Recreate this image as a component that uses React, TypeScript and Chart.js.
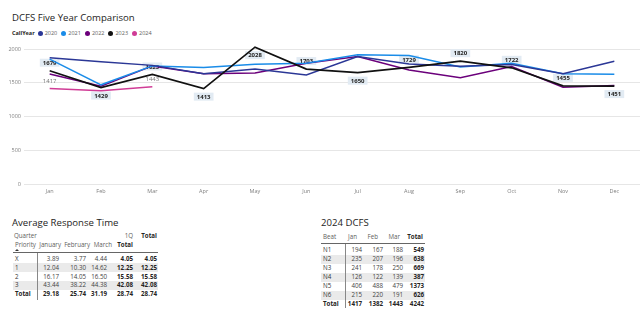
import React, { useEffect, useRef } from 'react';
import { Chart, registerables } from 'chart.js';

Chart.register(...registerables);

const FONT = "'Open Sans', 'Noto Sans', sans-serif";

// ---- Line chart data ----
const months = ['Jan', 'Feb', 'Mar', 'Apr', 'May', 'Jun', 'Jul', 'Aug', 'Sep', 'Oct', 'Nov', 'Dec'];
const years = ['2020', '2021', '2022', '2023', '2024'];
const yearColors = ['#2B3796', '#1A8CE8', '#6B007B', '#111111', '#D03C96'];
const calls2020 = [1870, 1812, 1758, 1635, 1705, 1615, 1890, 1780, 1745, 1770, 1635, 1820];
const calls2021 = [1850, 1470, 1750, 1725, 1775, 1790, 1915, 1905, 1735, 1790, 1635, 1625];
const calls2022 = [1630, 1450, 1750, 1635, 1645, 1790, 1890, 1690, 1575, 1740, 1435, 1460];
const calls2023 = [1679, 1429, 1623, 1413, 2028, 1703, 1650, 1729, 1820, 1722, 1455, 1451];
const calls2024 = [1417, 1382, 1443];
const yTicks = [0, 500, 1000, 1500, 2000];
// label placement: -1 above the point, 1 below
const labelSide2023 = [-1, 1, -1, 1, 1, -1, 1, -1, -1, -1, -1, 1];
const label2024Show = [true, false, true];

// ---- Average Response Time table ----
const priorities = ['X', '1', '2', '3'];
const respJanuary = [3.89, 12.04, 16.17, 43.44];
const respFebruary = [3.77, 10.3, 14.05, 38.22];
const respMarch = [4.44, 14.62, 16.5, 44.38];
const resp1QTotal = [4.05, 12.25, 15.58, 42.08];
const respTotal = [4.05, 12.25, 15.58, 42.08];
const respTotalsRow = [29.18, 25.74, 31.19, 28.74, 28.74];

// ---- 2024 DCFS table ----
const beats = ['N1', 'N2', 'N3', 'N4', 'N5', 'N6'];
const beatJan = [194, 235, 241, 126, 406, 215];
const beatFeb = [167, 207, 178, 122, 488, 220];
const beatMar = [188, 196, 250, 139, 479, 191];
const beatTotal = [549, 638, 669, 387, 1373, 626];
const beatTotalsRow = [1417, 1382, 1443, 4242];

const seriesData = [calls2020, calls2021, calls2022, calls2023, calls2024];

function LineChart() {
  const ref = useRef<HTMLCanvasElement>(null);
  useEffect(() => {
    const canvas = ref.current!;
    const labelPlugin = {
      id: 'valueLabels',
      beforeDatasetsDraw(chart: any) {
        const c = chart.ctx;
        c.save();
        c.textAlign = 'center';
        c.textBaseline = 'middle';
        const meta = chart.getDatasetMeta(3);
        c.font = `bold 6px ${FONT}`;
        meta.data.forEach((pt: any, i: number) => {
          const txt = String(calls2023[i]);
          const w = c.measureText(txt).width + 6;
          const h = 8;
          const cy = pt.y + labelSide2023[i] * 8;
          c.fillStyle = '#E2EBF3';
          c.fillRect(pt.x - w / 2, cy - h / 2, w, h);
          c.fillStyle = '#252423';
          c.fillText(txt, pt.x, cy + 0.5);
        });
        const meta4 = chart.getDatasetMeta(4);
        c.font = `6px ${FONT}`;
        c.fillStyle = '#777777';
        meta4.data.forEach((pt: any, i: number) => {
          if (label2024Show[i]) c.fillText(String(calls2024[i]), pt.x, pt.y - 7);
        });
        c.restore();
      },
    };
    const chart = new Chart(canvas, {
      type: 'line',
      data: {
        labels: months,
        datasets: years.map((y, i) => ({
          label: y,
          data: seriesData[i],
          borderColor: yearColors[i],
          backgroundColor: yearColors[i],
          borderWidth: i === 3 ? 1.7 : 1.5,
          pointRadius: 0,
          tension: 0,
          fill: false,
          order: i === 3 ? 0 : i + 1,
        })),
      },
      options: {
        animation: false,
        responsive: false,
        maintainAspectRatio: false,
        devicePixelRatio: 1,
        layout: { padding: { top: 4, left: 0, right: 0, bottom: 0 } },
        plugins: { legend: { display: false }, title: { display: false }, tooltip: { enabled: false } },
        scales: {
          x: {
            offset: true,
            grid: { display: false, drawTicks: false },
            border: { display: false },
            ticks: { color: '#808080', font: { family: FONT, size: 5.5 }, padding: 4, maxRotation: 0 },
            afterFit: (s: any) => { s.height = 22; },
          },
          y: {
            min: 0,
            max: 2100,
            afterBuildTicks: (s: any) => { s.ticks = yTicks.map((v) => ({ value: v })); },
            grid: { color: '#E6E6E6', lineWidth: 1, drawTicks: false },
            border: { display: false },
            ticks: {
              color: '#808080',
              font: { family: FONT, size: 5.5 },
              padding: 3,
              callback: (v: any) => String(v),
            },
            afterFit: (s: any) => { s.width = 24; },
          },
        },
      },
      plugins: [labelPlugin],
    });
    return () => chart.destroy();
  }, []);
  return (
    <canvas
      ref={ref}
      width={640}
      height={170}
      style={{ position: 'absolute', left: 0, top: 36, width: 640, height: 170 }}
    />
  );
}

type TxtProps = { x: number; cy: number; text: string | number; align?: 'left' | 'right'; bold?: boolean; color?: string; size?: number };
function Txt({ x, cy, text, align = 'right', bold = false, color = '#333333', size = 6.2 }: TxtProps) {
  const h = 10;
  const style: React.CSSProperties = {
    position: 'absolute',
    top: cy - h / 2,
    height: h,
    lineHeight: `${h}px`,
    fontSize: size,
    fontWeight: bold ? 700 : 400,
    color,
    whiteSpace: 'nowrap',
    fontFamily: FONT,
  };
  if (align === 'left') style.left = x;
  else style.right = 640 - x;
  return <div style={style}>{text}</div>;
}

function Rect({ x, y, w, h, color }: { x: number; y: number; w: number; h: number; color: string }) {
  return <div style={{ position: 'absolute', left: x, top: y, width: w, height: h, background: color }} />;
}

function ResponseTable() {
  const colRight = [59, 86, 107, 133, 157];
  const headRight = [61, 90, 112, 133];
  const rowCy = [259, 267.8, 276.6, 285.4];
  const totalCy = 294.2;
  const cols = [respJanuary, respFebruary, respMarch, resp1QTotal, respTotal];
  return (
    <>
      <Txt x={12} cy={223} text="Average Response Time" align="left" size={9.6} color="#252423" />
      <Txt x={14} cy={236} text="Quarter" align="left" color="#605E5C" />
      <Txt x={133} cy={236} text="1Q" color="#605E5C" />
      <Txt x={157} cy={236} text="Total" bold color="#252423" />
      <Txt x={15} cy={245} text="Priority" align="left" color="#605E5C" />
      <Txt x={headRight[0]} cy={245} text="January" color="#605E5C" />
      <Txt x={headRight[1]} cy={245} text="February" color="#605E5C" />
      <Txt x={headRight[2]} cy={245} text="March" color="#605E5C" />
      <Txt x={headRight[3]} cy={245} text="Total" bold color="#252423" />
      <div style={{ position: 'absolute', left: 15, top: 249, width: 0, height: 0, borderLeft: '2px solid transparent', borderRight: '2px solid transparent', borderBottom: '2px solid #333' }} />
      <Rect x={13} y={252} w={145} h={1} color="#666666" />
      {priorities.map((p, r) => (
        <React.Fragment key={p}>
          {r % 2 === 1 && <Rect x={13} y={rowCy[r] - 4.4} w={145} h={8.8} color="#EAEAEA" />}
          <Txt x={15} cy={rowCy[r]} text={p} align="left" />
          {cols.map((col, ci) => (
            <Txt key={ci} x={colRight[ci]} cy={rowCy[r]} text={col[r].toFixed(2)} bold={ci >= 3} color={ci >= 3 ? '#252423' : '#444444'} />
          ))}
        </React.Fragment>
      ))}
      <Txt x={15} cy={totalCy} text="Total" align="left" bold color="#252423" />
      {respTotalsRow.map((v, ci) => (
        <Txt key={ci} x={colRight[ci]} cy={totalCy} text={v.toFixed(2)} bold color="#252423" />
      ))}
      <Rect x={37} y={253} w={1} h={47} color="#888888" />
    </>
  );
}

function BeatTable() {
  const colRight = [362, 383, 403, 424];
  const headRight = [357, 378, 400, 423];
  const rowCy = [250, 259, 268, 277, 286, 295];
  const totalCy = 304;
  const cols = [beatJan, beatFeb, beatMar, beatTotal];
  return (
    <>
      <Txt x={321} cy={223} text="2024 DCFS" align="left" size={9.6} color="#252423" />
      <Txt x={323} cy={236.7} text="Beat" align="left" color="#605E5C" />
      <Txt x={headRight[0]} cy={236.7} text="Jan" color="#605E5C" />
      <Txt x={headRight[1]} cy={236.7} text="Feb" color="#605E5C" />
      <Txt x={headRight[2]} cy={236.7} text="Mar" color="#605E5C" />
      <Txt x={headRight[3]} cy={236.7} text="Total" bold color="#252423" />
      <Rect x={321} y={243} w={104} h={1} color="#666666" />
      {beats.map((b, r) => (
        <React.Fragment key={b}>
          {r % 2 === 1 && <Rect x={321} y={rowCy[r] - 4.5} w={104} h={9} color="#EAEAEA" />}
          <Txt x={323} cy={rowCy[r]} text={b} align="left" />
          {cols.map((col, ci) => (
            <Txt key={ci} x={colRight[ci]} cy={rowCy[r]} text={col[r]} bold={ci === 3} color={ci === 3 ? '#252423' : '#444444'} />
          ))}
        </React.Fragment>
      ))}
      <Txt x={323} cy={totalCy} text="Total" align="left" bold color="#252423" />
      {beatTotalsRow.map((v, ci) => (
        <Txt key={ci} x={colRight[ci]} cy={totalCy} text={v} bold color="#252423" />
      ))}
      <Rect x={345} y={244} w={1} h={64} color="#888888" />
    </>
  );
}

function Legend() {
  return (
    <div style={{ position: 'absolute', left: 12, top: 29, height: 8, display: 'flex', alignItems: 'center', fontFamily: FONT, fontSize: 5.5, color: '#605E5C', whiteSpace: 'nowrap' }}>
      <span style={{ fontWeight: 700, color: '#252423', marginRight: 3 }}>CallYear</span>
      {years.map((y, i) => (
        <span key={y} style={{ display: 'flex', alignItems: 'center', marginRight: 4 }}>
          <span style={{ display: 'inline-block', width: 5, height: 5, borderRadius: '50%', background: yearColors[i], marginRight: 2 }} />
          {y}
        </span>
      ))}
    </div>
  );
}

export default function App() {
  return (
    <div style={{ position: 'fixed', left: 0, top: 0, width: 640, height: 329, background: '#ffffff', overflow: 'hidden', fontFamily: FONT }}>
      <Txt x={12} cy={18} text="DCFS Five Year Comparison" align="left" size={9.6} color="#252423" />
      <Legend />
      <LineChart />
      <ResponseTable />
      <BeatTable />
    </div>
  );
}
